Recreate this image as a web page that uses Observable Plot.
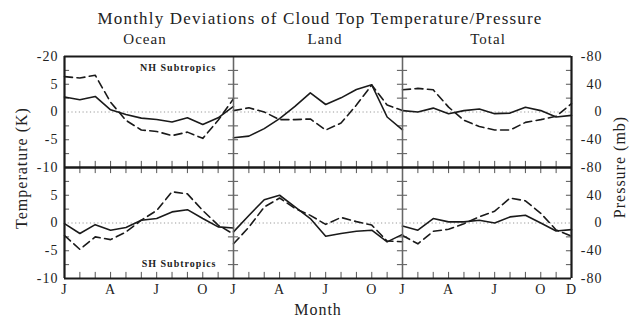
<!DOCTYPE html>
<html><head><meta charset="utf-8">
<script src="https://cdn.jsdelivr.net/npm/d3@7"></script>
<script src="https://cdn.jsdelivr.net/npm/@observablehq/plot@0.6"></script>
<style>
body{margin:0;background:#fff;}
#wrap{position:relative;width:639px;height:320px;font-family:"Liberation Serif",serif;color:#222;overflow:hidden;}
#chart{position:absolute;left:0;top:0;}
#chart svg text{letter-spacing:1px;}
.t{position:absolute;white-space:nowrap;letter-spacing:1px;line-height:1;}
</style></head><body>
<div id="wrap">
 <div id="chart"></div>
 <div class="t" style="left:320px;top:10px;font-size:17px;letter-spacing:1.2px;transform:translateX(-50%)">Monthly Deviations of Cloud Top Temperature/Pressure</div>
 <div class="t" style="left:145px;top:32px;font-size:15px;transform:translateX(-50%)">Ocean</div>
 <div class="t" style="left:325px;top:32px;font-size:15px;transform:translateX(-50%)">Land</div>
 <div class="t" style="left:488px;top:32px;font-size:15px;transform:translateX(-50%)">Total</div>
 <div class="t" style="left:318px;top:302px;font-size:16px;transform:translateX(-50%)">Month</div>
 <div class="t" style="left:22px;top:168px;font-size:16px;transform:translate(-50%,-50%) rotate(-90deg)">Temperature (K)</div>
 <div class="t" style="left:620px;top:167px;font-size:16px;transform:translate(-50%,-50%) rotate(-90deg)">Pressure (mb)</div>
</div>
<script>
const regions = ["Ocean", "Land", "Total"];
const hemis = ["NH", "SH"];
const months = [0,1,2,3,4,5,6,7,8,9,10,11];

// temperature deviations (K), solid; pressure deviations (mb), dashed
const oceanNH_temp = [2.7, 2.2, 2.8, 0.4, -0.45, -1.1, -1.35, -1.8, -1.05, -2.25, -1.05, 1.0];
const oceanNH_pres = [51, 49, 53, 14, -12, -26, -28, -34, -29, -38, -12, 19];
const landNH_temp  = [-4.65, -4.35, -3.0, -1.2, 1.0, 3.45, 1.35, 2.55, 4.05, 4.9, -0.9, -3.2];
const landNH_pres  = [2, 6, 0, -11, -11, -10, -26, -16, 10, 39, 10, 2];
const totalNH_temp = [0.25, 0, 0.7, -0.3, 0.25, 0.55, -0.3, -0.2, 0.85, 0.25, -0.9, -0.6];
const totalNH_pres = [32, 34, 32, 7, -12, -21, -26, -26, -15, -11, -6, 12];
const oceanSH_temp = [-0.1, -1.9, -0.3, -1.3, -0.8, 0.5, 0.8, 2.0, 2.4, 0.8, -0.7, -0.9];
const oceanSH_pres = [-18, -38, -20, -24, -13, 4, 18, 45, 42, 18, -3, -16];
const landSH_temp  = [-1.6, 1.35, 4.2, 5.0, 2.9, 0.8, -2.4, -1.9, -1.5, -1.3, -3.4, -2.05];
const landSH_pres  = [-30, -6, 23, 36, 21, 11, -2, 8, 2, -3, -26, -27];
const totalSH_temp = [-0.55, -1.3, 0.8, 0.2, 0.2, 0.5, 0, 1.1, 1.4, 0, -1.45, -1.2];
const totalSH_pres = [-18, -30, -12, -9, -1, 9, 17, 36, 32, 14, -10, -19];

// tick labels
const tempTickValues = [10, 5, 0, -5, -10];
const tempTickLabelsNH = ["-20", "5", "0", "-5", "-10"];
const tempTickLabelsSH = ["", "5", "0", "-5", "-10"];
const presTickValues = [80, 40, 0, -40, -80];
const presTickLabelsNH = ["-80", "40", "0", "-40", "-80"];
const presTickLabelsSH = ["", "40", "0", "-40", "-80"];
const monthTickPos = [0, 3, 6, 9];
const monthTickLabels = ["J", "A", "J", "O"];
const lastMonthLabel = "D";
const minorTempTicks = [-7.5, -5, -2.5, 2.5, 5, 7.5];
const mbPerK = 8;

const series = [
  ["Ocean","NH",oceanNH_temp,oceanNH_pres],["Land","NH",landNH_temp,landNH_pres],["Total","NH",totalNH_temp,totalNH_pres],
  ["Ocean","SH",oceanSH_temp,oceanSH_pres],["Land","SH",landSH_temp,landSH_pres],["Total","SH",totalSH_temp,totalSH_pres]
];
const rows = [];
for (const [region, hemi, t, p] of series)
  months.forEach((m, i) => rows.push({region, hemi, month: m, temp: t[i], pres: p[i]}));

const tempLabels = [];
tempTickValues.forEach((v, i) => {
  tempLabels.push({fy: "NH", v, label: tempTickLabelsNH[i]});
  tempLabels.push({fy: "SH", v, label: tempTickLabelsSH[i]});
});
const presLabels = [];
presTickValues.forEach((v, i) => {
  presLabels.push({fy: "NH", v: v / mbPerK, label: presTickLabelsNH[i]});
  presLabels.push({fy: "SH", v: v / mbPerK, label: presTickLabelsSH[i]});
});
const monthLabels = [];
for (const r of regions) monthTickPos.forEach((m, i) => monthLabels.push({fx: r, fy: "SH", m, label: monthTickLabels[i]}));
monthLabels.push({fx: "Total", fy: "SH", m: 11, label: lastMonthLabel});

const dividers = [
  {fx: "Ocean", x: 0, outer: true}, {fx: "Ocean", x: 11, outer: false},
  {fx: "Land", x: 0, outer: false}, {fx: "Land", x: 11, outer: false},
  {fx: "Total", x: 0, outer: false}, {fx: "Total", x: 11, outer: true}
];
const sshTopTicks = months.map(m => ({m, fy: "SH"}));
const notes = [{fx: "Ocean", fy: "NH", label: "NH Subtropics"}, {fx: "Ocean", fy: "SH", label: "SH Subtropics"}];

const chart = Plot.plot({
  width: 639, height: 320,
  marginTop: 56, marginBottom: 42, marginLeft: 63, marginRight: 67,
  style: {fontFamily: "'Liberation Serif', serif", fontSize: "14px", color: "#222", background: "white"},
  fx: {domain: regions, padding: 0, axis: null},
  fy: {domain: hemis, padding: 0, axis: null},
  x: {domain: [0, 11], axis: null},
  y: {domain: [-10, 10], axis: null},
  marks: [
    Plot.ruleY([0], {stroke: "#999", strokeDasharray: "1.2,2.5", strokeWidth: 1}),
    Plot.ruleY(minorTempTicks, {y: d => d, x1: 0, x2: 0.33, stroke: "#555"}),
    Plot.ruleY(minorTempTicks, {y: d => d, x1: 10.67, x2: 11, stroke: "#555"}),
    Plot.ruleX(months, {x: d => d, y1: -10, y2: -8.9, stroke: "#555"}),
    Plot.ruleX(sshTopTicks, {x: "m", fy: "fy", y1: 10, y2: 8.9, stroke: "#555"}),
    Plot.line(rows, {fx: "region", fy: "hemi", x: "month", y: d => d.pres / mbPerK, stroke: "#1a1a1a", strokeWidth: 1.6, strokeDasharray: "8,4.5"}),
    Plot.line(rows, {fx: "region", fy: "hemi", x: "month", y: "temp", stroke: "#1a1a1a", strokeWidth: 1.6}),
    Plot.ruleX(dividers.filter(d => !d.outer), {fx: "fx", x: "x", stroke: "#666", strokeWidth: 1.3}),
    Plot.ruleX(dividers.filter(d => d.outer), {fx: "fx", x: "x", stroke: "#1a1a1a", strokeWidth: 2.2}),
    Plot.ruleY([-10, 10], {stroke: "#1a1a1a", strokeWidth: 2.2}),
    Plot.text(tempLabels, {fx: () => "Ocean", fy: "fy", frameAnchor: "left", y: "v", text: "label", textAnchor: "end", dx: -6, fontSize: 14, fill: "#222"}),
    Plot.text(presLabels, {fx: () => "Total", fy: "fy", frameAnchor: "right", y: "v", text: "label", textAnchor: "end", dx: 31, fontSize: 14, fill: "#222"}),
    Plot.text(monthLabels, {fx: "fx", fy: "fy", x: "m", frameAnchor: "bottom", text: "label", lineAnchor: "top", dy: 6, fontSize: 14, fill: "#222"}),
    Plot.text(notes.filter(d => d.fy === "NH"), {fx: "fx", fy: "fy", text: "label", frameAnchor: "top-right", textAnchor: "end", lineAnchor: "top", dx: -17, dy: 7, fontSize: 10, fontWeight: "bold", fill: "#222"}),
    Plot.text(notes.filter(d => d.fy === "SH"), {fx: "fx", fy: "fy", text: "label", frameAnchor: "bottom-right", textAnchor: "end", lineAnchor: "bottom", dx: -17, dy: -12, fontSize: 10, fontWeight: "bold", fill: "#222"})
  ]
});
document.getElementById("chart").append(chart);
</script>
</body></html>
